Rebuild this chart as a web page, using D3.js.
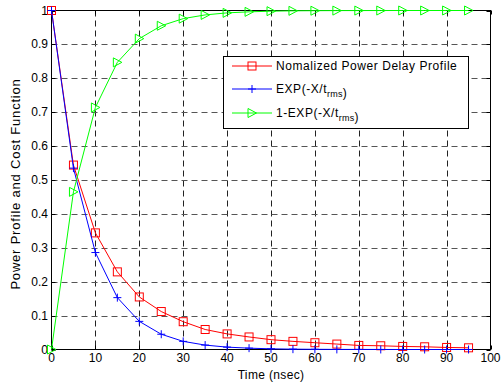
<!DOCTYPE html>
<html><head><meta charset="utf-8">
<script src="https://cdn.jsdelivr.net/npm/d3@7"></script>
<style>html,body{margin:0;padding:0;background:#fff;}svg{display:block;}</style>
</head><body>
<script>
const timeNs = [0,5,10,15,20,25,30,35,40,45,50,55,60,65,70,75,80,85,90,95];
const pdp = [1,0.544,0.344,0.229,0.155,0.112,0.082,0.059,0.046,0.037,0.029,0.024,0.020,0.016,0.012,0.011,0.009,0.008,0.006,0.005];
const expVals = [1,0.535,0.286,0.153,0.083,0.045,0.024,0.013,0.007,0.004,0.002,0.001,0.0006,0.0003,0.0002,0.0001,0,0,0,0];
const oneMinusExp = [0,0.465,0.714,0.847,0.917,0.955,0.976,0.987,0.993,0.996,0.998,0.999,0.9994,0.9997,0.9998,0.9999,1,1,1,1];
const xTicks = [0,10,20,30,40,50,60,70,80,90,100];
const yTicks = [0,0.1,0.2,0.3,0.4,0.5,0.6,0.7,0.8,0.9,1];
const seriesNames = ["Nomalized Power Delay Profile","EXP(-X/t","1-EXP(-X/t"];
const xLabel = "Time (nsec)";
const yLabel = "Power Profile and Cost Function";

const W=502,H=385;
const L=51.5,R=490.5,T=10.5,B=349.5;
const svg=d3.select("body").append("svg").attr("width",W).attr("height",H);
const x=d3.scaleLinear().domain([0,100]).range([L,R]);
const y=d3.scaleLinear().domain([0,1]).range([B,T]);
const font="'Liberation Sans', Arial, sans-serif";

// grid
const g=svg.append("g");
g.selectAll(".vg").data(xTicks.slice(1,-1)).join("line")
  .attr("x1",d=>Math.round(x(d))+0.5).attr("x2",d=>Math.round(x(d))+0.5).attr("y1",T).attr("y2",B)
  .attr("stroke","#222").attr("stroke-dasharray","6,4").attr("stroke-width",1);
g.selectAll(".hg").data(yTicks.slice(1,-1)).join("line")
  .attr("y1",d=>Math.round(y(d))+0.5).attr("y2",d=>Math.round(y(d))+0.5).attr("x1",L).attr("x2",R)
  .attr("stroke","#555").attr("stroke-dasharray","6,4").attr("stroke-width",1);

// inward ticks
const tl=4;
xTicks.forEach(d=>{const px=Math.round(x(d))+0.5;
  g.append("line").attr("x1",px).attr("x2",px).attr("y1",B).attr("y2",B-tl).attr("stroke","#000");
  g.append("line").attr("x1",px).attr("x2",px).attr("y1",T).attr("y2",T+tl).attr("stroke","#000");});
yTicks.forEach(d=>{const py=Math.round(y(d))+0.5;
  g.append("line").attr("x1",L).attr("x2",L+tl).attr("y1",py).attr("y2",py).attr("stroke","#000");
  g.append("line").attr("x1",R).attr("x2",R-tl).attr("y1",py).attr("y2",py).attr("stroke","#000");});

// frame
svg.append("rect").attr("x",L).attr("y",T).attr("width",R-L).attr("height",B-T)
  .attr("fill","none").attr("stroke","#000").attr("stroke-width",1);

// tick labels
svg.append("g").selectAll("text").data(xTicks).join("text")
  .attr("x",d=>x(d)).attr("y",362).attr("text-anchor","middle")
  .attr("font-family",font).attr("font-size",12).text(d=>d);
svg.append("g").selectAll("text").data(yTicks).join("text")
  .attr("x",48).attr("y",d=>y(d)+4).attr("text-anchor","end")
  .attr("font-family",font).attr("font-size",12).text(d=>d);

svg.append("text").attr("x",(L+R)/2).attr("y",379).attr("text-anchor","middle")
  .attr("font-family",font).attr("font-size",12).attr("letter-spacing",0.35).text(xLabel);
svg.append("text").attr("transform","translate(20,184) rotate(-90)")
  .attr("text-anchor","middle").attr("font-family",font).attr("font-size",13)
  .attr("letter-spacing",0.8).text(yLabel);

// markers
function square(sel,cx,cy,c){sel.append("rect").attr("x",cx-4).attr("y",cy-4).attr("width",8).attr("height",8).attr("fill","none").attr("stroke",c);}
function plus(sel,cx,cy,c){sel.append("path").attr("d",`M${cx-4},${cy}H${cx+4}M${cx},${cy-4}V${cy+4}`).attr("fill","none").attr("stroke",c);}
function tri(sel,cx,cy,c){sel.append("path").attr("d",`M${cx-4},${cy-4.5}L${cx+4.5},${cy}L${cx-4},${cy+4.5}Z`).attr("fill","none").attr("stroke",c);}

const series=[
  {vals:pdp,color:"#ff0000",mk:square},
  {vals:expVals,color:"#0000ff",mk:plus},
  {vals:oneMinusExp,color:"#00ff00",mk:tri}
];
const line=d3.line().x((d,i)=>x(timeNs[i])).y(d=>y(d));
series.forEach(s=>{
  const sg=svg.append("g");
  sg.append("path").attr("d",line(s.vals)).attr("fill","none").attr("stroke",s.color).attr("stroke-width",1);
  s.vals.forEach((v,i)=>s.mk(sg,x(timeNs[i]),y(v),s.color));
});

// legend
const lg=svg.append("g");
lg.append("rect").attr("x",223.5).attr("y",56.5).attr("width",245).attr("height",72)
  .attr("fill","#fff").attr("stroke","#000");
const ly=[66,89,113];
series.forEach((s,i)=>{
  lg.append("line").attr("x1",232).attr("x2",272).attr("y1",ly[i]).attr("y2",ly[i]).attr("stroke",s.color);
  s.mk(lg,252,ly[i],s.color);
  const t=lg.append("text").attr("x",276).attr("y",ly[i]+4).attr("font-family",font).attr("font-size",12)
    .attr("letter-spacing",0.55);
  t.append("tspan").text(seriesNames[i]);
  if(i>0){
    t.append("tspan").attr("font-size",9).attr("dy",4).attr("letter-spacing",0.2).text("rms");
    t.append("tspan").text(")");
  }
});
</script>
</body></html>
